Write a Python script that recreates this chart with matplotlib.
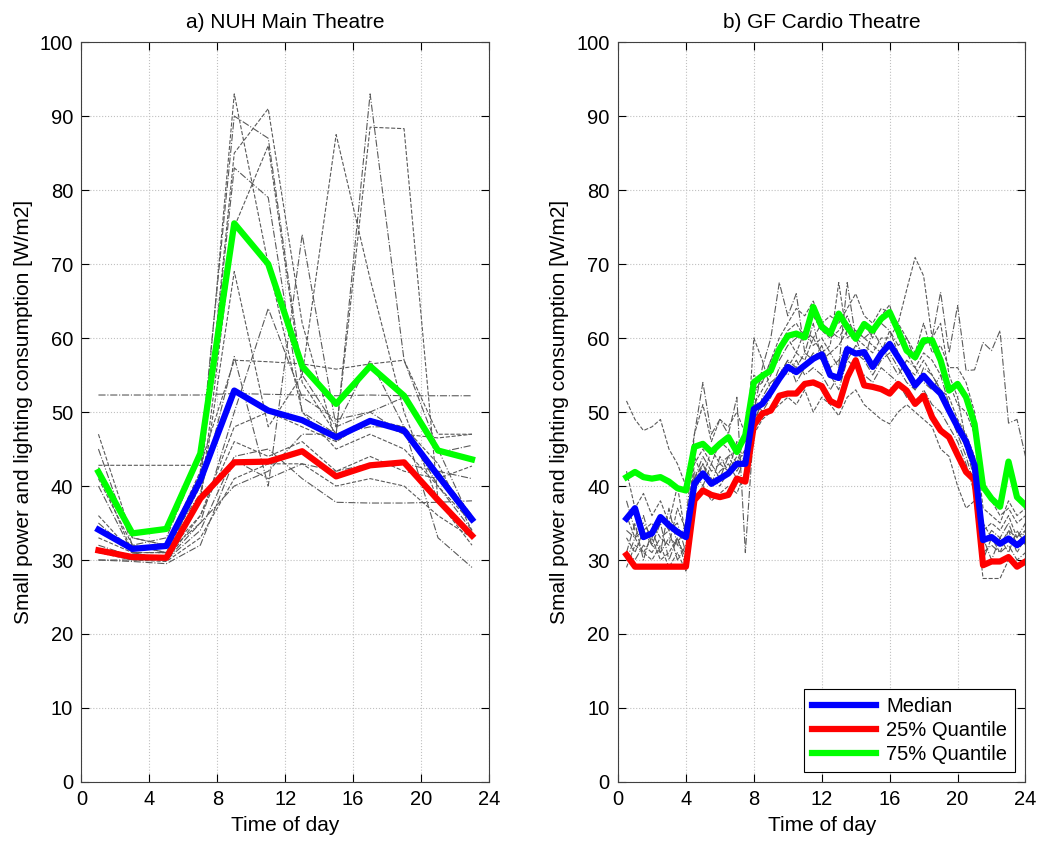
import matplotlib.pyplot as plt

plt.rcParams['font.family'] = ['Liberation Sans', 'DejaVu Sans']

# ---- a) NUH Main Theatre : two-hourly values ----
hours_a = [1, 3, 5, 7, 9, 11, 13, 15, 17, 19, 21, 23]
median_a = [34.1, 31.5, 31.9, 40.8, 52.9, 50.2, 48.9, 46.6, 48.8, 47.5, 41.4, 35.5]
q25_a = [31.3, 30.4, 30.3, 38.3, 43.2, 43.3, 44.7, 41.3, 42.8, 43.2, 38.1, 33.3]
q75_a = [41.9, 33.6, 34.2, 44.4, 75.5, 70.0, 56.2, 51.1, 56.2, 52.2, 44.8, 43.6]

days_a = [
    [47.0, 33.0, 32.0, 42.0, 93.0, 70.0, 50.0, 45.0, 47.0, 45.0, 40.0, 35.0],
    [45.0, 32.0, 33.0, 44.0, 90.0, 87.0, 55.0, 48.0, 50.0, 47.0, 42.0, 36.0],
    [42.0, 31.0, 31.0, 40.0, 85.0, 91.0, 62.0, 46.0, 49.0, 48.0, 43.0, 34.0],
    [40.0, 31.0, 30.0, 41.0, 83.0, 79.0, 50.0, 47.0, 93.0, 57.0, 45.0, 35.0],
    [36.0, 31.0, 30.0, 38.0, 75.0, 86.0, 54.0, 47.0, 88.5, 88.3, 38.0, 33.0],
    [52.3, 52.3, 52.3, 52.3, 52.5, 52.4, 52.3, 52.2, 52.3, 52.2, 52.2, 52.2],
    [42.8, 42.8, 42.8, 42.8, 57.0, 56.8, 56.5, 55.8, 56.5, 57.0, 47.0, 47.0],
    [42.5, 33.0, 32.0, 39.0, 57.5, 40.0, 74.0, 48.0, 57.0, 48.0, 40.0, 34.0],
    [41.0, 32.0, 31.0, 38.0, 69.0, 48.0, 55.0, 87.5, 68.0, 50.0, 38.0, 32.0],
    [35.0, 31.0, 31.0, 35.0, 50.0, 64.0, 52.0, 49.0, 50.0, 52.0, 44.5, 45.5],
    [33.0, 31.0, 30.0, 36.0, 48.0, 50.0, 48.0, 46.0, 49.0, 47.0, 46.5, 47.0],
    [32.0, 30.5, 30.0, 34.0, 44.0, 45.0, 41.0, 37.8, 37.7, 37.7, 37.8, 38.0],
    [31.0, 30.0, 29.8, 33.0, 41.0, 43.0, 43.0, 40.0, 41.0, 40.0, 36.0, 33.0],
    [30.0, 30.0, 30.0, 35.0, 40.0, 42.0, 47.0, 47.0, 48.0, 48.0, 33.0, 29.0],
    [34.0, 32.0, 31.0, 36.0, 46.0, 44.0, 46.0, 42.0, 44.0, 42.0, 41.0, 42.7],
    [30.0, 29.8, 29.5, 32.0, 43.5, 41.0, 43.0, 42.0, 43.0, 43.0, 42.0, 41.0],
]

# ---- b) GF Cardio Theatre : half-hourly values ----
hours_b = [0.5, 1.0, 1.5, 2.0, 2.5, 3.0, 3.5, 4.0, 4.5, 5.0, 5.5, 6.0,
           6.5, 7.0, 7.5, 8.0, 8.5, 9.0, 9.5, 10.0, 10.5, 11.0, 11.5, 12.0,
           12.5, 13.0, 13.5, 14.0, 14.5, 15.0, 15.5, 16.0, 16.5, 17.0, 17.5, 18.0,
           18.5, 19.0, 19.5, 20.0, 20.5, 21.0, 21.5, 22.0, 22.5, 23.0, 23.5, 24.0]
median_b = [35.6, 37.0, 33.1, 33.6, 35.8, 34.7, 33.8, 33.1, 40.3, 41.7, 40.3, 41.0,
            41.7, 43.0, 43.0, 50.4, 51.1, 52.7, 54.5, 56.1, 55.4, 56.3, 57.2, 57.8,
            55.0, 54.6, 58.5, 57.9, 58.1, 56.1, 57.9, 59.2, 57.4, 55.6, 53.6, 54.9,
            53.6, 52.5, 50.2, 48.0, 46.0, 42.8, 32.7, 33.1, 32.2, 32.9, 32.0, 32.9]
q25_b = [30.7, 29.1, 29.1, 29.1, 29.1, 29.1, 29.1, 29.1, 38.1, 39.4, 38.8, 38.5,
         38.8, 41.0, 40.6, 48.2, 49.8, 50.2, 52.2, 52.5, 52.5, 53.8, 54.0, 53.5,
         51.5, 50.9, 54.7, 57.0, 53.6, 53.4, 53.1, 52.5, 53.8, 52.9, 51.1, 52.2,
         49.3, 47.5, 46.6, 44.2, 41.9, 40.8, 29.3, 29.8, 29.8, 30.4, 29.1, 29.8]
q75_b = [41.2, 41.9, 41.2, 41.0, 41.2, 40.6, 39.7, 39.4, 45.3, 45.7, 44.6, 45.7,
         46.6, 44.6, 46.9, 54.0, 54.9, 55.6, 58.5, 60.3, 60.6, 60.1, 64.2, 61.5,
         60.6, 63.3, 61.5, 59.9, 61.9, 61.0, 62.6, 63.5, 61.0, 58.3, 57.4, 59.7,
         59.7, 57.0, 52.9, 53.8, 52.0, 48.4, 39.9, 38.3, 37.2, 43.3, 38.5, 37.4]

days_b = [
    [51.5, 49.0, 47.5, 48.0, 49.0, 45.0, 43.0, 40.0, 47.0, 51.0, 46.0, 49.0,
     48.0, 50.0, 47.0, 53.0, 54.0, 57.0, 60.0, 62.0, 64.0, 63.0, 65.0, 62.0,
     63.0, 62.0, 64.0, 66.0, 63.0, 62.0, 64.0, 63.5, 62.0, 60.0, 58.0, 62.0,
     58.0, 59.0, 56.0, 56.0, 54.0, 50.0, 41.0, 38.0, 36.0, 37.0, 35.0, 36.0],
    [34.0, 33.0, 34.0, 32.0, 31.0, 33.0, 32.0, 31.0, 41.0, 44.0, 42.0, 43.0,
     44.0, 45.0, 46.0, 52.0, 55.0, 56.0, 57.0, 59.0, 60.0, 61.0, 60.0, 62.0,
     61.0, 60.0, 62.0, 61.0, 60.0, 61.0, 62.0, 61.0, 59.0, 60.0, 57.0, 59.0,
     60.0, 66.2, 58.0, 64.4, 55.6, 55.7, 59.4, 58.3, 61.0, 48.5, 49.0, 44.0],
    [29.0, 32.0, 31.0, 33.0, 30.0, 31.0, 33.0, 30.0, 40.0, 43.0, 41.0, 40.0,
     42.0, 43.0, 45.0, 51.0, 53.0, 55.0, 58.0, 60.0, 58.0, 61.0, 59.0, 60.0,
     58.0, 59.0, 61.0, 60.0, 59.0, 58.0, 60.0, 60.0, 62.0, 66.5, 70.9, 68.4,
     60.0, 62.0, 55.0, 52.0, 46.0, 42.0, 35.0, 33.0, 31.0, 34.0, 31.0, 33.0],
    [31.0, 35.0, 30.0, 34.0, 31.0, 37.0, 32.0, 35.0, 47.0, 54.0, 47.0, 49.0,
     47.0, 52.0, 31.0, 48.0, 52.0, 54.0, 55.0, 57.0, 56.0, 58.0, 57.0, 59.0,
     56.0, 57.0, 59.0, 58.0, 57.0, 55.0, 57.0, 58.0, 56.0, 54.0, 53.0, 55.0,
     54.0, 52.0, 50.0, 47.0, 44.0, 40.0, 31.0, 32.0, 31.0, 32.0, 30.0, 31.0],
    [33.0, 31.0, 34.0, 35.0, 33.0, 32.0, 37.0, 34.0, 44.0, 41.0, 45.0, 43.0,
     42.0, 44.0, 43.0, 60.0, 57.0, 53.0, 54.0, 56.0, 58.0, 57.0, 60.0, 58.0,
     59.0, 67.5, 60.0, 61.0, 60.0, 59.0, 58.0, 61.0, 58.0, 56.0, 55.0, 57.0,
     55.0, 53.0, 52.0, 49.0, 47.0, 44.0, 34.0, 35.0, 34.0, 36.0, 33.0, 34.0],
    [30.0, 33.0, 36.0, 32.0, 35.0, 30.0, 33.0, 29.0, 42.0, 40.0, 43.0, 41.0,
     44.0, 42.0, 44.0, 50.0, 56.0, 60.0, 67.5, 63.0, 66.0, 58.0, 62.0, 57.0,
     58.0, 56.0, 67.5, 60.0, 57.0, 61.0, 59.0, 57.0, 55.0, 57.0, 56.0, 54.0,
     53.0, 55.0, 51.0, 48.0, 45.0, 41.0, 33.0, 30.0, 33.0, 31.0, 34.0, 32.0],
    [36.0, 33.0, 31.0, 30.0, 32.0, 29.0, 31.0, 28.5, 38.0, 40.0, 38.0, 39.0,
     40.0, 39.0, 42.0, 47.0, 49.0, 50.0, 51.0, 52.0, 51.0, 53.0, 50.0, 52.0,
     51.0, 49.5, 52.0, 53.0, 51.0, 50.0, 49.0, 48.4, 50.0, 51.0, 50.0, 49.0,
     48.0, 45.0, 44.0, 40.0, 37.0, 38.0, 27.5, 27.5, 27.5, 30.0, 29.0, 30.0],
    [31.0, 30.0, 32.0, 31.0, 33.0, 34.0, 30.0, 32.0, 39.0, 42.0, 40.0, 42.0,
     43.0, 41.0, 44.0, 49.0, 51.0, 53.0, 56.0, 55.0, 57.0, 55.0, 56.0, 55.0,
     53.0, 55.0, 57.0, 56.0, 55.0, 54.0, 56.0, 55.0, 54.0, 52.0, 51.0, 53.0,
     51.0, 50.0, 48.0, 46.0, 43.0, 39.0, 30.0, 33.0, 32.0, 34.0, 33.0, 35.0],
    [42.0, 37.0, 39.0, 36.0, 38.0, 35.0, 40.0, 33.0, 43.0, 45.0, 43.0, 46.0,
     45.0, 43.0, 47.0, 55.0, 54.0, 57.0, 59.0, 61.0, 62.0, 60.0, 63.0, 61.0,
     60.0, 61.0, 63.0, 60.0, 62.0, 60.0, 63.0, 64.5, 60.0, 58.0, 56.0, 58.0,
     57.0, 55.0, 54.0, 51.0, 50.0, 47.0, 37.0, 36.0, 35.0, 38.0, 36.0, 37.0],
    [38.0, 34.0, 35.0, 33.0, 36.0, 34.0, 35.0, 31.0, 41.0, 43.0, 40.0, 44.0,
     42.0, 46.0, 43.0, 52.0, 50.0, 52.0, 55.0, 57.0, 54.0, 56.0, 58.0, 57.0,
     55.0, 53.0, 57.0, 59.0, 58.0, 56.0, 58.0, 59.0, 57.0, 55.0, 53.0, 56.0,
     55.0, 53.0, 51.0, 48.0, 46.0, 43.0, 32.0, 34.0, 33.0, 35.0, 32.0, 34.0],
]

titles = ['a) NUH Main Theatre', 'b) GF Cardio Theatre']
xticks = [0, 4, 8, 12, 16, 20, 24]
yticks = [0, 10, 20, 30, 40, 50, 60, 70, 80, 90, 100]

fig = plt.figure(figsize=(10.39, 8.42), dpi=100)
ax1 = fig.add_axes([0.0784, 0.0713, 0.3922, 0.8787])
ax2 = fig.add_axes([0.5948, 0.0713, 0.3922, 0.8787])

panels = [(ax1, hours_a, days_a, median_a, q25_a, q75_a),
          (ax2, hours_b, days_b, median_b, q25_b, q75_b)]

for i, (ax, x, days, med, q25, q75) in enumerate(panels):
    for k, d in enumerate(days):
        ls = '--' if k % 2 == 0 else '-.'
        ax.plot(x, d, ls, color='#5a5a5a', lw=0.8, zorder=2)
    ax.plot(x, med, color='#0000ff', lw=4.5, label='Median', zorder=4)
    ax.plot(x, q25, color='#ff0000', lw=4.5, label='25% Quantile', zorder=3)
    ax.plot(x, q75, color='#00ff00', lw=4.5, label='75% Quantile', zorder=3)

    ax.set_xlim(0, 24)
    ax.set_ylim(0, 100)
    ax.set_xticks(xticks)
    ax.set_yticks(yticks)
    ax.grid(True, ls=':', color='#c0c0c0', lw=0.8)
    ax.tick_params(direction='in', top=True, right=True, length=6,
                   labelsize=14.5, pad=6)
    for s in ax.spines.values():
        s.set_color('#404040')
    ax.set_title(titles[i], fontsize=15, pad=10)
    ax.set_xlabel('Time of day', fontsize=15, labelpad=5)
    ax.set_ylabel('Small power and lighting consumption [W/m2]', fontsize=15,
                  labelpad=5)

leg = ax2.legend(loc='lower right', fontsize=14.5, fancybox=False,
                 framealpha=1, edgecolor='black', handlelength=3.2,
                 borderaxespad=0.5, labelspacing=0.25, handletextpad=0.5)
leg.get_frame().set_linewidth(0.8)

fig.savefig('out.png', dpi=100)
